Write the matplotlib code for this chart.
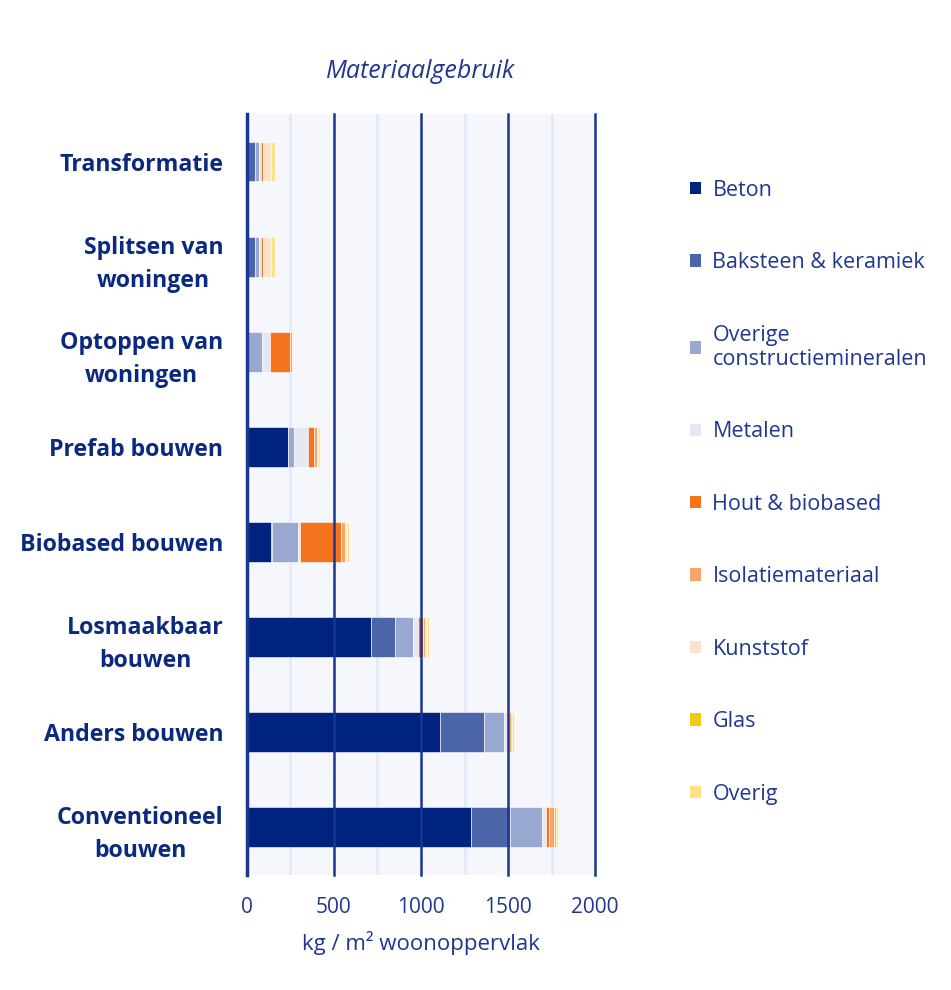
import matplotlib
matplotlib.use('Agg')
import matplotlib.pyplot as plt
import numpy as np
from matplotlib.patches import Patch

# categories, top to bottom as in the chart
categories = ['Transformatie', 'Splitsen van\nwoningen', 'Optoppen van\nwoningen',
              'Prefab bouwen', 'Biobased bouwen', 'Losmaakbaar\nbouwen',
              'Anders bouwen', 'Conventioneel\nbouwen']

materials = ['Beton', 'Baksteen & keramiek', 'Overige\nconstructiemineralen', 'Metalen',
             'Hout & biobased', 'Isolatiemateriaal', 'Kunststof', 'Glas', 'Overig']

# kg / m2 per material, one list per category in the order above
beton      = [0,   0,   0,   237, 137, 714,  1107, 1289]
baksteen   = [48,  48,  0,   0,   8,   138,  253,  220]
overige    = [22,  22,  86,  33,  150, 103,  115,  184]
metalen    = [10,  10,  46,  78,  8,   25,   20,   23]
hout       = [10,  10,  115, 35,  240, 30,   10,   21]
isolatie   = [3,   3,   10,  17,  22,  12,   10,   25]
kunststof  = [44,  44,  6,   4,   4,   5,    4,    5]
glas       = [0,   0,   0,   3,   8,   6,    4,    9]
overig     = [23,  23,  10,  12,  12,  15,   14,   9]

xticks = [0, 500, 1000, 1500, 2000]

colors = ['#00237f', '#4b65a8', '#99a8d0', '#e3e8f4', '#f4731c',
          '#f7a36b', '#fde1cf', '#f5c518', '#ffe18a']

text_blue = '#1f3790'
label_blue = '#0b2a7f'


def plot_materiaal():
    plt.rcParams['font.family'] = ['Open Sans', 'DejaVu Sans']
    series = [beton, baksteen, overige, metalen, hout, isolatie, kunststof, glas, overig]

    fig = plt.figure(figsize=(9.51, 9.90), dpi=100)
    ax = fig.add_axes([0.2597, 0.1162, 0.366, 0.7687])
    ax.set_facecolor('#f5f7fd')

    ypos = np.arange(len(categories))
    left = np.zeros(len(categories))
    for vals, color, name in zip(series, colors, materials):
        ax.barh(ypos, vals, left=left, height=0.42, color=color,
                edgecolor='white', linewidth=0.4, label=name, zorder=2)
        left += np.array(vals)

    ax.set_xlim(0, 2000)
    ax.set_ylim(len(categories) - 0.5, -0.5)

    # grid: dark at every 500, light in between
    for x in xticks[1:]:
        ax.axvline(x, color='#1a3790', lw=1.8, zorder=3, clip_on=False)
    for x in np.arange(250, 2000, 500):
        ax.axvline(x, color='#e1e8f8', lw=1.8, zorder=1)

    for s in ['top', 'right', 'bottom']:
        ax.spines[s].set_visible(False)
    ax.spines['left'].set_color('#1a3790')
    ax.spines['left'].set_linewidth(2.5)
    ax.spines['left'].set_zorder(4)

    ax.set_xticks(xticks)
    ax.set_xticklabels([str(v) for v in xticks])
    ax.tick_params(axis='x', length=0, pad=16, labelsize=15, labelcolor=text_blue)
    ax.set_yticks(ypos)
    ax.set_yticklabels(categories, fontsize=16.7, fontweight='bold',
                       color=label_blue, linespacing=1.5, multialignment='center')
    ax.tick_params(axis='y', length=0, pad=17)
    ax.set_xlabel('kg / m² woonoppervlak', fontsize=16, color=text_blue, labelpad=9)
    ax.set_title('Materiaalgebruik', fontsize=18, style='italic', color=text_blue, pad=26)

    handles = [Patch(facecolor=c, edgecolor='none') for c in colors]
    leg = fig.legend(handles, materials, loc='upper left', bbox_to_anchor=(0.705, 0.838),
                     frameon=False, fontsize=15.5, labelspacing=2.39,
                     handlelength=0.5, handleheight=0.5, handletextpad=0.55)
    for t in leg.get_texts():
        t.set_color(text_blue)

    plt.savefig('out.png', dpi=100)


def main():
    plot_materiaal()


if __name__ == '__main__':
    main()
